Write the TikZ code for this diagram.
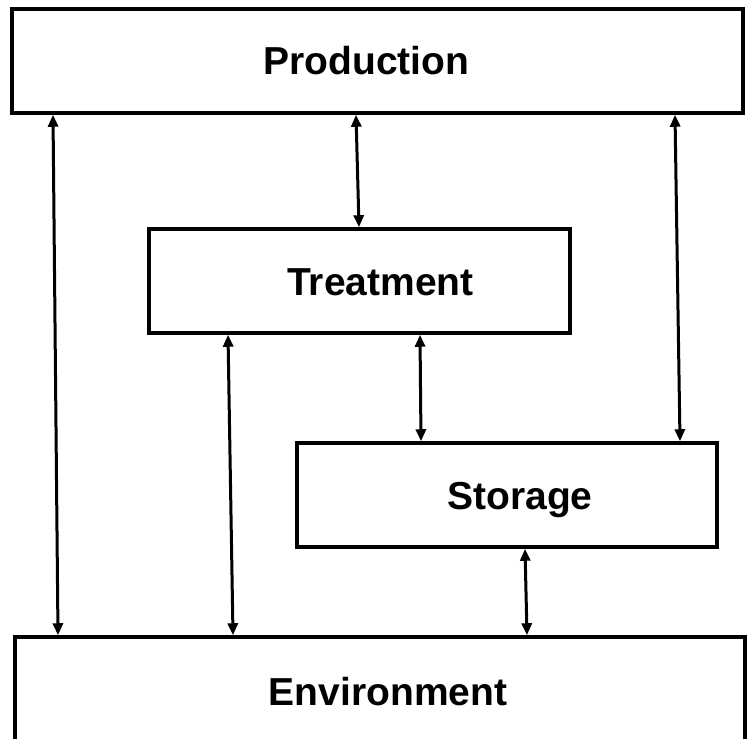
\documentclass[tikz,border=0pt]{standalone}
\usepackage{fontspec}
\setmainfont{Liberation Sans}
\usetikzlibrary{arrows.meta}

\begin{document}
\begin{tikzpicture}[
    x=1pt, y=-1pt,
    box/.style={
        draw, rectangle, line width=3.5pt, inner sep=0pt
    },
    txt/.style={
        font=\fontsize{39}{47}\selectfont\bfseries,
        inner sep=0pt, text height=28pt, text depth=0pt
    },
    link/.style={
        {Triangle[length=12pt,width=10pt]}-{Triangle[length=12pt,width=10pt]},
        line width=3pt
    }
]
    \useasboundingbox (0,0) rectangle (751,738);
    \node[box, minimum width=731pt, minimum height=104pt,
        label={[txt, xshift=-11pt]center:Production}] (Prod) at (377.5,61) {};
    \node[box, minimum width=421pt, minimum height=104pt,
        label={[txt, xshift=21pt]center:Treatment}] (Treat) at (359.5,281) {};
    \node[box, minimum width=420pt, minimum height=104pt,
        label={[txt, xshift=13pt]center:Storage}] (Stor) at (507,495) {};
    \node[box, minimum width=730pt, minimum height=105pt,
        label={[txt, xshift=8pt, yshift=-1.5pt]center:Environment}] (Env) at (380,689.5) {};
    \draw[link] ([xshift=-324.5pt]Prod.south) -- ([xshift=-322pt]Env.north);
    \draw[link] ([xshift=-21.5pt]Prod.south) -- ([xshift=-0.5pt]Treat.north);
    \draw[link] ([xshift=297.5pt]Prod.south) -- ([xshift=173pt]Stor.north);
    \draw[link] ([xshift=-131.5pt]Treat.south) -- ([xshift=-147pt]Env.north);
    \draw[link] ([xshift=60.5pt]Treat.south) -- ([xshift=-86pt]Stor.north);
    \draw[link] ([xshift=18pt]Stor.south) -- ([xshift=147pt]Env.north);
\end{tikzpicture}
\end{document}
